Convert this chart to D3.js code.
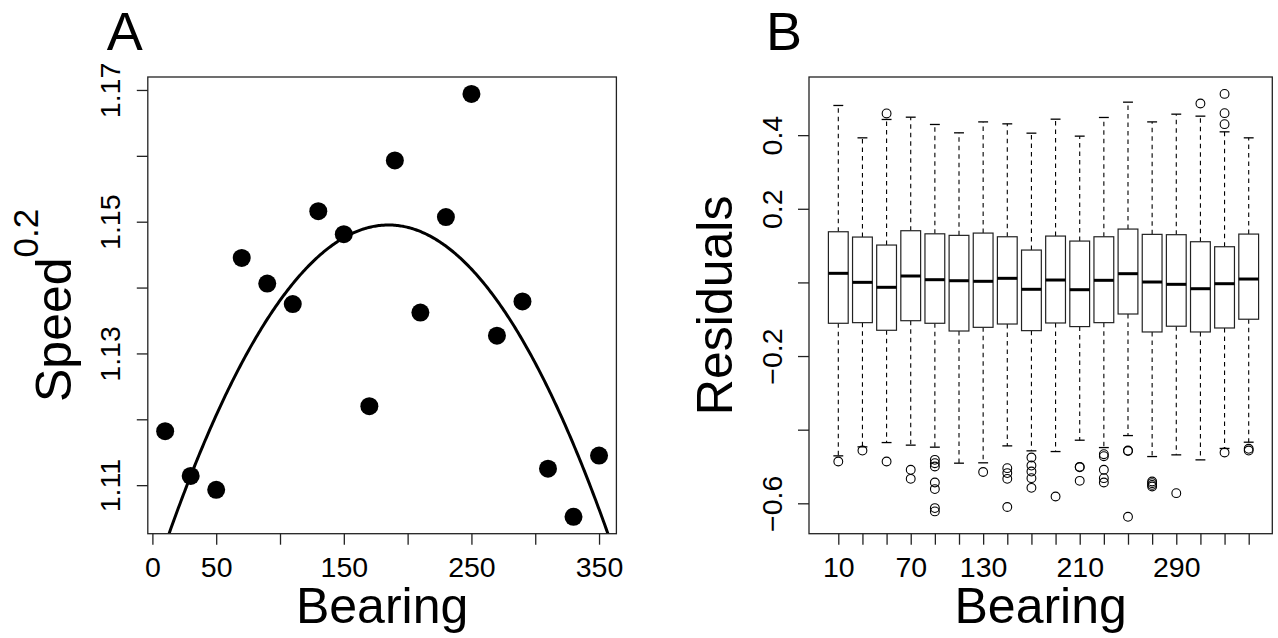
<!DOCTYPE html>
<html>
<head>
<meta charset="utf-8">
<title>Speed and residuals by bearing</title>
<script src="https://cdn.jsdelivr.net/npm/d3@7"></script>
<style>
  body { margin: 0; background: #fff; }
  text { font-family: "Liberation Sans", Arial, Helvetica, sans-serif; fill: #000; }
</style>
</head>
<body>
<svg width="1278" height="638"></svg>
<script>
// ---- panel A data: mean speed^0.2 by bearing
var bearings = [10, 30, 50, 70, 90, 110, 130, 150, 170, 190, 210, 230, 250, 270, 290, 310, 330, 350];
var speed = [1.1182, 1.1114, 1.1093, 1.1445, 1.1406, 1.1375, 1.1516, 1.1481, 1.1220,
             1.1593, 1.1362, 1.1507, 1.1694, 1.1327, 1.1379, 1.1125, 1.1052, 1.1145];
// quadratic fit: c0 + c1*b + c2*b^2
var fitCoef = [1.095253, 5.8645e-4, -1.585e-6];
var xTicksA = [0, 50, 100, 150, 200, 250, 300, 350];
var xLabelsA = [0, 50, 150, 250, 350];
var yTicksA = [1.11, 1.12, 1.13, 1.14, 1.15, 1.16, 1.17];
var yLabelsA = [1.11, 1.13, 1.15, 1.17];

// ---- panel B data: residual boxplots per bearing
var whiskerHi = [0.4806, 0.3927, 0.4426, 0.4488, 0.429, 0.4063, 0.436, 0.4307, 0.4054,
                 0.4434, 0.3973, 0.448, 0.4896, 0.436, 0.457, 0.4516, 0.409, 0.3927];
var q3 = [0.1376, 0.1232, 0.1015, 0.1404, 0.132, 0.1278, 0.134, 0.124, 0.0879,
          0.1259, 0.1123, 0.124, 0.1449, 0.1305, 0.1296, 0.1105, 0.0969, 0.1313];
var medians = [0.0247, 0.0002, -0.0133, 0.0174, 0.0074, 0.0046, 0.003, 0.0111, -0.0187,
               0.0065, -0.0198, 0.0057, 0.0237, 0.0011, -0.0052, -0.0171, -0.0035, 0.0092];
var q1 = [-0.111, -0.1093, -0.13, -0.104, -0.111, -0.132, -0.122, -0.113, -0.131,
          -0.1102, -0.12, -0.1093, -0.0858, -0.1346, -0.119, -0.1346, -0.1238, -0.1];
var whiskerLo = [-0.4711, -0.4467, -0.435, -0.442, -0.4475, -0.491, -0.49, -0.444, -0.4575,
                 -0.4594, -0.4286, -0.4486, -0.416, -0.473, -0.4684, -0.482, -0.451, -0.434];
var outliers = [
  [-0.4865],
  [-0.4567],
  [0.4589, -0.4865],
  [-0.509, -0.5335],
  [-0.482, -0.491, -0.5, -0.5435, -0.5614, -0.613, -0.622],
  [],
  [-0.515],
  [-0.5045, -0.518, -0.5335, -0.61],
  [-0.4757, -0.4974, -0.5137, -0.5317, -0.558],
  [-0.5815],
  [-0.501, -0.502, -0.539],
  [-0.4666, -0.472, -0.509, -0.5317, -0.5435],
  [-0.4567, -0.458, -0.6366],
  [-0.5408, -0.5453, -0.55, -0.5543],
  [-0.5724],
  [0.486],
  [0.512, 0.4597, 0.4299, -0.462],
  [-0.452, -0.4567]
];
var xLabelsB = [10, 70, 130, 210, 290];
var yTicksB = [-0.6, -0.4, -0.2, 0, 0.2, 0.4];
var yLabelsB = [-0.6, -0.2, 0.2, 0.4];

var svg = d3.select("svg");
var tickFont = 28.5, titleFont = 50;
var fmtMinus = function(v) { return d3.format(".1f")(v).replace("-", "\u2212"); };

// R style: extend the data range by 4% on each side
function padExtent(vals) {
    var e = d3.extent(vals), p = (e[1] - e[0]) * 0.04;
    return [e[0] - p, e[1] + p];
}

function frame(g, r) {
    g.append("rect")
        .attr("x", r.left).attr("y", r.top)
        .attr("width", r.right - r.left).attr("height", r.bottom - r.top)
        .attr("fill", "none").attr("stroke", "#222").attr("stroke-width", 1.3);
}

function rotateYLabels(axisG) {
    axisG.selectAll(".tick text")
        .attr("transform", "rotate(-90)")
        .attr("x", 0).attr("y", -27.5).attr("dy", 0)
        .attr("text-anchor", "middle");
}

function styleAxis(axisG) {
    axisG.select(".domain").remove();
    axisG.selectAll(".tick line").attr("stroke", "#222").attr("stroke-width", 1.3);
    axisG.selectAll(".tick text").attr("font-size", tickFont).attr("font-family", null).attr("fill", "#000");
    // unlabelled ticks: drop the empty text nodes
    axisG.selectAll(".tick text").filter(function() { return this.textContent === ""; }).remove();
}

// ================= Panel A =================
var rA = {left: 147.8, right: 616.4, top: 77, bottom: 533.7};
var xA = d3.scaleLinear().domain(padExtent(bearings)).range([rA.left, rA.right]);
var yA = d3.scaleLinear().domain(padExtent(speed)).range([rA.bottom, rA.top]);
var gA = svg.append("g");

svg.append("clipPath").attr("id", "clipA")
  .append("rect").attr("x", rA.left).attr("y", rA.top)
    .attr("width", rA.right - rA.left).attr("height", rA.bottom - rA.top);

var curveX = d3.range(xA.domain()[0], xA.domain()[1], 1).concat([xA.domain()[1]]);
gA.append("path")
    .datum(curveX)
    .attr("clip-path", "url(#clipA)")
    .attr("fill", "none").attr("stroke", "#000").attr("stroke-width", 3)
    .attr("d", d3.line()
        .x(function(b) { return xA(b); })
        .y(function(b) { return yA(fitCoef[0] + fitCoef[1] * b + fitCoef[2] * b * b); }));

gA.selectAll("circle.pt")
    .data(bearings)
    .enter().append("circle")
        .attr("class", "pt")
        .attr("cx", function(d) { return xA(d); })
        .attr("cy", function(d, i) { return yA(speed[i]); })
        .attr("r", 9)
        .attr("fill", "#000");

frame(gA, rA);

var axAx = gA.append("g")
    .attr("transform", "translate(0," + rA.bottom + ")")
    .call(d3.axisBottom(xA).tickValues(xTicksA).tickSize(11).tickPadding(12)
        .tickFormat(function(d) { return xLabelsA.indexOf(d) >= 0 ? d : ""; }));
styleAxis(axAx);

var ayA = gA.append("g")
    .attr("transform", "translate(" + rA.left + ",0)")
    .call(d3.axisLeft(yA).tickValues(yTicksA).tickSize(11)
        .tickFormat(function(d) {
            return yLabelsA.some(function(v) { return Math.abs(v - d) < 1e-9; }) ? d3.format(".2f")(d) : "";
        }));
styleAxis(ayA);
rotateYLabels(ayA);

gA.append("text")
    .attr("x", (rA.left + rA.right) / 2).attr("y", 623)
    .attr("text-anchor", "middle").attr("font-size", titleFont)
    .text("Bearing");

var ylA = gA.append("text")
    .attr("transform", "translate(" + (rA.left - 77) + "," + ((rA.top + rA.bottom) / 2) + ") rotate(-90)")
    .attr("text-anchor", "middle").attr("font-size", titleFont);
ylA.append("tspan").text("Speed");
ylA.append("tspan").attr("font-size", 35).attr("dy", -33).text("0.2");

gA.append("text")
    .attr("x", rA.left - 41).attr("y", 49.5)
    .attr("font-size", 54)
    .text("A");

// ================= Panel B =================
var rB = {left: 809, right: 1272.3, top: 77, bottom: 533.7};
var idx = d3.range(1, bearings.length + 1);
var xB = d3.scaleLinear().domain([1, bearings.length]).range([838.3, 1248.7]);
var allB = d3.merge([whiskerHi, whiskerLo, d3.merge(outliers)]);
var yB = d3.scaleLinear().domain(padExtent(allB)).range([rB.bottom, rB.top]);
var boxW = xB(1.82) - xB(1);
var gB = svg.append("g");

var boxes = gB.selectAll("g.box")
    .data(idx)
    .enter().append("g").attr("class", "box");

// whiskers (dashed)
boxes.append("line")
    .attr("x1", function(d) { return xB(d); }).attr("x2", function(d) { return xB(d); })
    .attr("y1", function(d, i) { return yB(q3[i]); })
    .attr("y2", function(d, i) { return yB(whiskerHi[i]); })
    .attr("stroke", "#000").attr("stroke-width", 1.1).attr("stroke-dasharray", "4.5,4");
boxes.append("line")
    .attr("x1", function(d) { return xB(d); }).attr("x2", function(d) { return xB(d); })
    .attr("y1", function(d, i) { return yB(q1[i]); })
    .attr("y2", function(d, i) { return yB(whiskerLo[i]); })
    .attr("stroke", "#000").attr("stroke-width", 1.1).attr("stroke-dasharray", "4.5,4");
// staples
[whiskerHi, whiskerLo].forEach(function(arr) {
    boxes.append("line")
        .attr("x1", function(d) { return xB(d) - boxW / 4; })
        .attr("x2", function(d) { return xB(d) + boxW / 4; })
        .attr("y1", function(d, i) { return yB(arr[i]); })
        .attr("y2", function(d, i) { return yB(arr[i]); })
        .attr("stroke", "#000").attr("stroke-width", 1.3);
});
// box
boxes.append("rect")
    .attr("x", function(d) { return xB(d) - boxW / 2; })
    .attr("y", function(d, i) { return yB(q3[i]); })
    .attr("width", boxW)
    .attr("height", function(d, i) { return yB(q1[i]) - yB(q3[i]); })
    .attr("fill", "#fff").attr("stroke", "#222").attr("stroke-width", 1.2);
// median
boxes.append("line")
    .attr("x1", function(d) { return xB(d) - boxW / 2; })
    .attr("x2", function(d) { return xB(d) + boxW / 2; })
    .attr("y1", function(d, i) { return yB(medians[i]); })
    .attr("y2", function(d, i) { return yB(medians[i]); })
    .attr("stroke", "#000").attr("stroke-width", 3);
// outliers
boxes.each(function(d, i) {
    d3.select(this).selectAll("circle")
        .data(outliers[i])
        .enter().append("circle")
            .attr("cx", xB(d))
            .attr("cy", function(v) { return yB(v); })
            .attr("r", 4.4)
            .attr("fill", "none").attr("stroke", "#000").attr("stroke-width", 1.1);
});

frame(gB, rB);

var axB = gB.append("g")
    .attr("transform", "translate(0," + rB.bottom + ")")
    .call(d3.axisBottom(xB).tickValues(idx).tickSize(11).tickPadding(12)
        .tickFormat(function(d) {
            var b = bearings[d - 1];
            return xLabelsB.indexOf(b) >= 0 ? b : "";
        }));
styleAxis(axB);

var ayB = gB.append("g")
    .attr("transform", "translate(" + rB.left + ",0)")
    .call(d3.axisLeft(yB).tickValues(yTicksB).tickSize(11)
        .tickFormat(function(d) {
            return yLabelsB.some(function(v) { return Math.abs(v - d) < 1e-9; }) ? fmtMinus(d) : "";
        }));
styleAxis(ayB);
rotateYLabels(ayB);

gB.append("text")
    .attr("x", (rB.left + rB.right) / 2).attr("y", 623)
    .attr("text-anchor", "middle").attr("font-size", titleFont)
    .text("Bearing");

gB.append("text")
    .attr("transform", "translate(" + (rB.left - 77) + "," + ((rB.top + rB.bottom) / 2) + ") rotate(-90)")
    .attr("text-anchor", "middle").attr("font-size", titleFont)
    .text("Residuals");

gB.append("text")
    .attr("x", rB.left - 43).attr("y", 49.5)
    .attr("font-size", 54)
    .text("B");
</script>
</body>
</html>
